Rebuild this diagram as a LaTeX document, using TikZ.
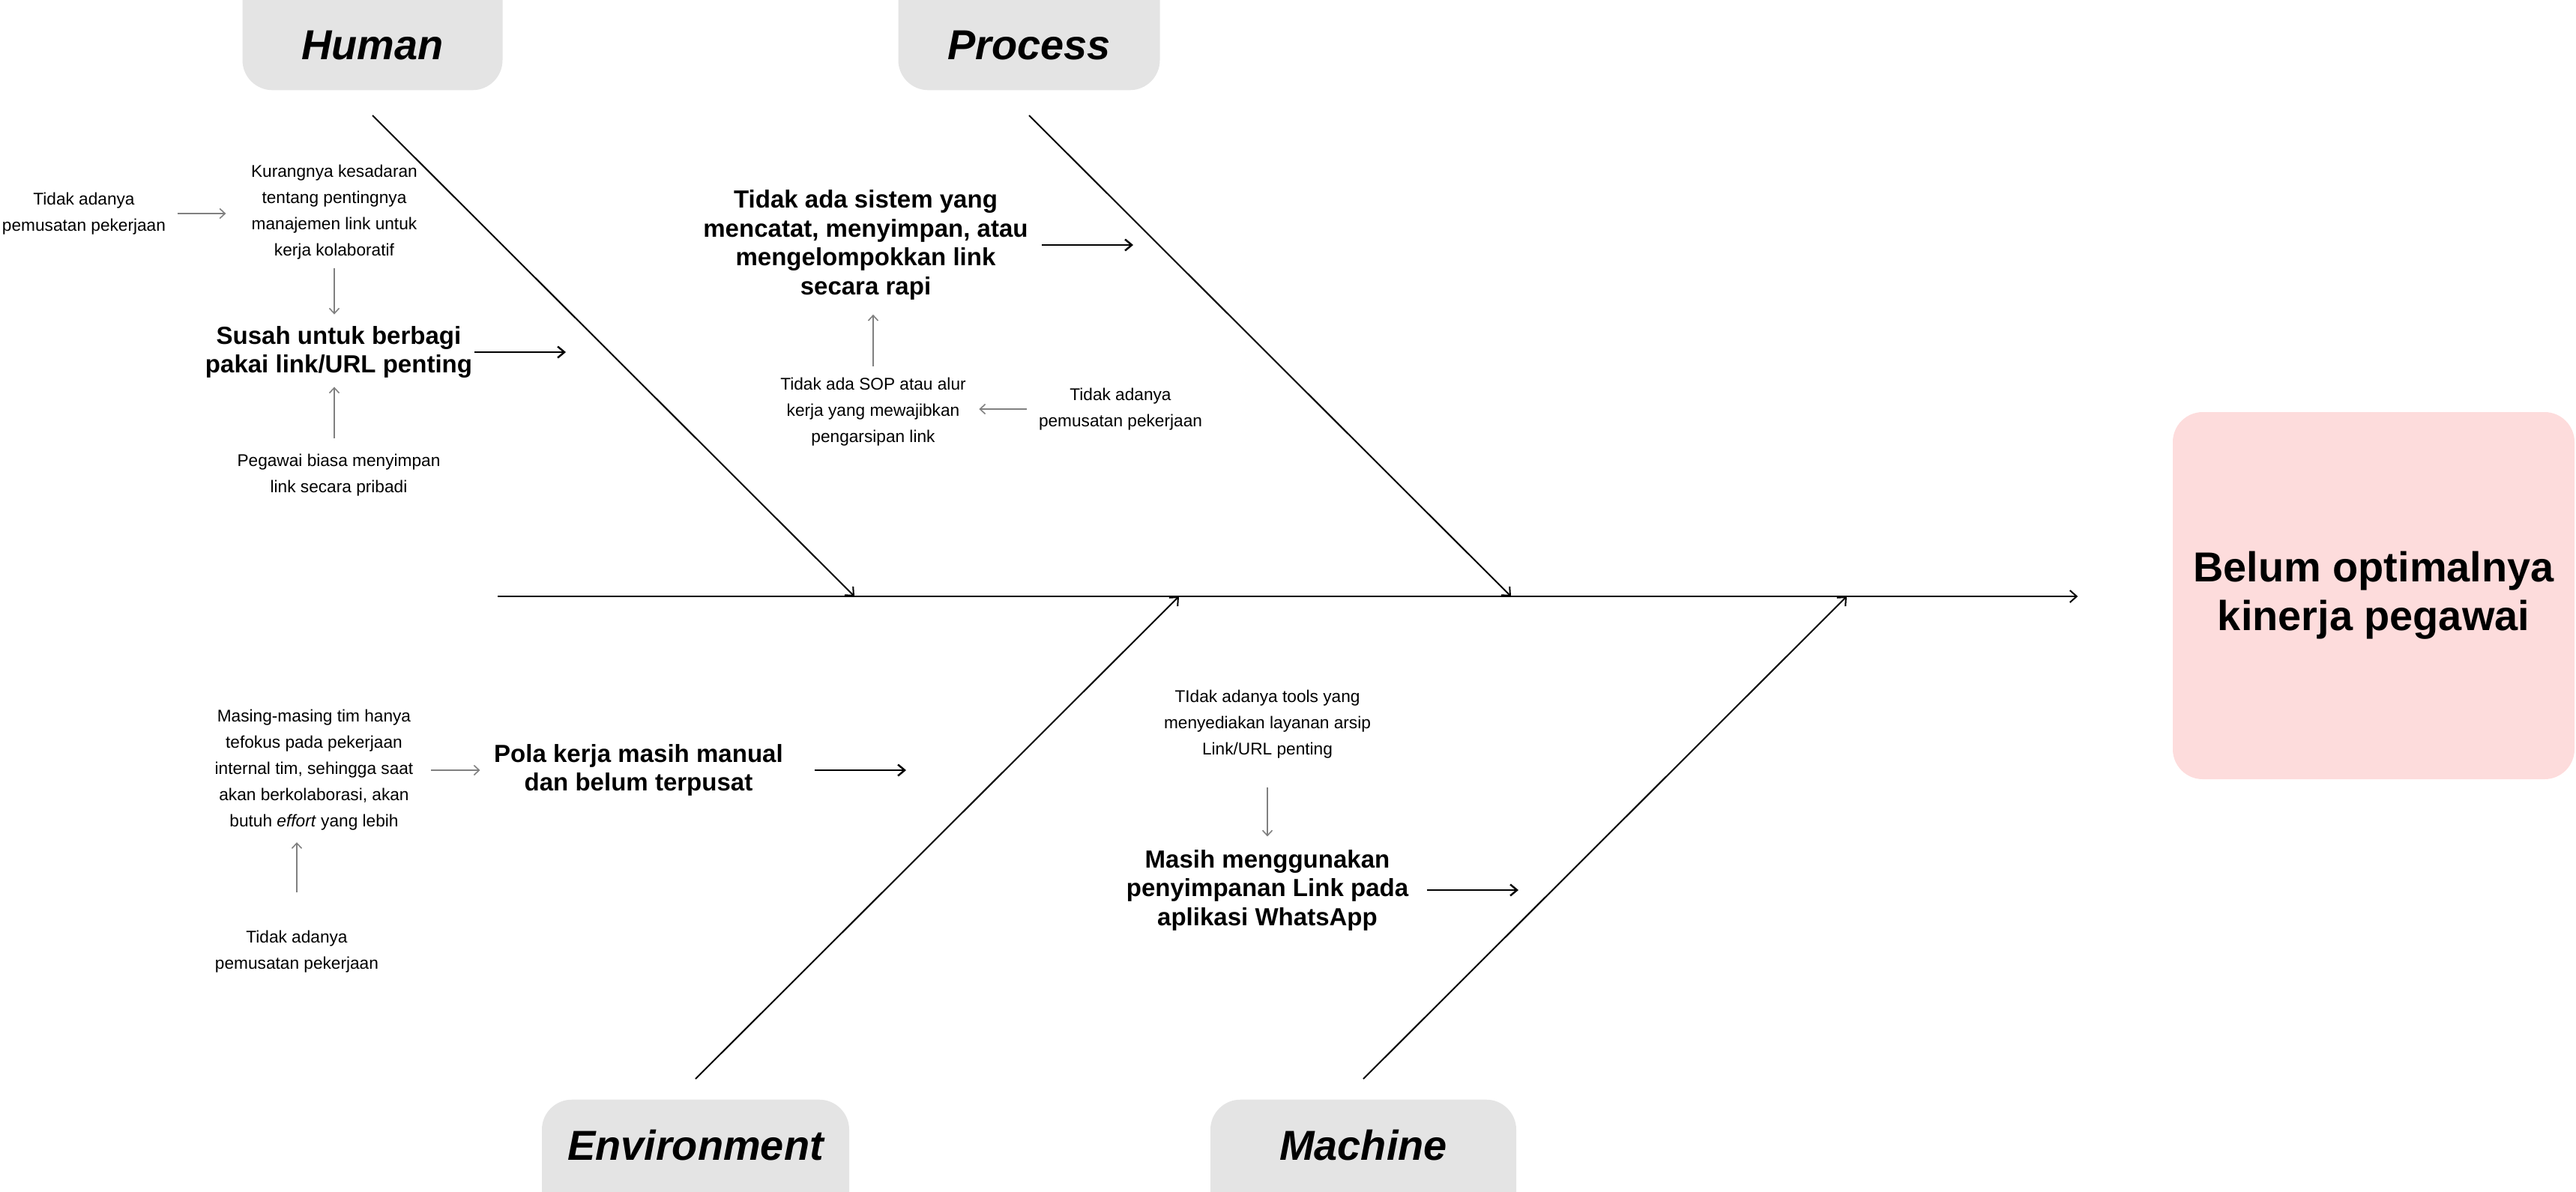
\documentclass[tikz,border=0pt]{standalone}
\usepackage{fontspec}
\setmainfont{Liberation Sans}
\usetikzlibrary{arrows.meta}
\definecolor{catgray}{RGB}{228,228,228}
\definecolor{effpink}{RGB}{253,220,220}
\definecolor{arrgray}{RGB}{128,128,128}
\begin{document}
\begin{tikzpicture}[
  cat/.style = {fill = catgray, rounded corners = 0.4cm, inner sep = 0pt, font = \fontsize{15.9}{19}\selectfont\bfseries\itshape},
  small/.style = {align = center, inner sep = 0pt, font = \fontsize{6.45}{9.95}\selectfont},
  cause/.style = {align = center, inner sep = 0pt, font = \fontsize{9.4}{10.95}\selectfont\bfseries},
  bone/.style = {line width = 0.57pt, -{Straight Barb[length = 0.9mm, width = 1.6mm]}},
  blackarr/.style = {line width = 0.7pt, -{Straight Barb[length = 0.9mm, width = 1.5mm]}},
  grayarr/.style = {arrgray, line width = 0.45pt, -{Straight Barb[length = 0.7mm, width = 1.3mm]}}
]
\useasboundingbox (0,0) rectangle (34.37,-15.90);
\clip (0,0) rectangle (34.37,-15.90);

\node[cat, minimum width = 3.47cm, text height = 1.2cm, text depth = 0.41cm, anchor = south] (hum) at (4.97,-1.21) {Human};
\node[cat, minimum width = 3.49cm, text height = 1.2cm, text depth = 0.41cm, anchor = south] (pro) at (13.73,-1.21) {Process};
\node[cat, minimum width = 4.10cm, text height = 0.81cm, text depth = 0.82cm, anchor = north] (env) at (9.28,-14.67) {Environment};
\node[cat, minimum width = 4.08cm, text height = 0.81cm, text depth = 0.82cm, anchor = north] (mac) at (18.19,-14.67) {Machine};
\node[fill = effpink, rounded corners = 0.4cm, minimum width = 5.36cm, minimum height = 4.90cm, align = center, inner sep = 0pt, font = \fontsize{15.9}{18.5}\selectfont\bfseries] (eff) at (31.67,-7.95) {Belum optimalnya\\kinerja pegawai};

\coordinate (tail) at (6.64,-7.96);
\coordinate (jh) at (11.40,-7.96);
\coordinate (jp) at (20.16,-7.96);
\coordinate (je) at (15.73,-7.96);
\coordinate (jm) at (24.64,-7.96);
\coordinate (ht) at ([yshift = -0.33cm]hum.south);
\coordinate (pt) at ([yshift = -0.33cm]pro.south);
\coordinate (et) at ([yshift = 0.27cm]env.north);
\coordinate (mt) at ([yshift = 0.27cm]mac.north);

\draw[bone, shorten >= 1.26cm] (tail) -- (tail -| eff.west);
\foreach \t/\j in {ht/jh, pt/jp, et/je, mt/jm}
\draw[bone] (\t) -- (\j);

\node[small] (h1a) at (1.12,-2.85) {Tidak adanya\\pemusatan pekerjaan};
\node[small] (h1b) at (4.46,-2.83) {Kurangnya kesadaran\\tentang pentingnya\\manajemen link untuk\\kerja kolaboratif};
\node[cause] (h1c) at (4.52,-4.70) {Susah untuk berbagi\\pakai link/URL penting};
\node[small] (h1d) at (4.52,-6.34) {Pegawai biasa menyimpan\\link secara pribadi};

\node[cause] (p1c) at (11.55,-3.27) {Tidak ada sistem yang\\mencatat, menyimpan, atau\\mengelompokkan link\\secara rapi};
\node[small] (p1b) at (11.65,-5.50) {Tidak ada SOP atau alur\\kerja yang mewajibkan\\pengarsipan link};
\node[small] (p1a) at (14.95,-5.46) {Tidak adanya\\pemusatan pekerjaan};

\node[small] (e1a) at (4.19,-10.28) {Masing-masing tim hanya\\tefokus pada pekerjaan\\internal tim, sehingga saat\\akan berkolaborasi, akan\\butuh \textit{effort} yang lebih};
\node[cause] (e1c) at (8.52,-10.28) {Pola kerja masih manual\\dan belum terpusat};
\node[small] (e1d) at (3.96,-12.70) {Tidak adanya\\pemusatan pekerjaan};

\node[small] (m1a) at (16.91,-9.67) {TIdak adanya tools yang\\menyediakan layanan arsip\\Link/URL penting};
\node[cause] (m1c) at (16.91,-11.88) {Masih menggunakan\\penyimpanan Link pada\\aplikasi WhatsApp};

\draw[grayarr, shorten <= 0.15cm, shorten >= 0.33cm] (h1a.east) -- (h1a.east -| h1b.west);
\draw[grayarr, shorten <= 0.11cm, shorten >= 0.15cm] (h1b.south) -- (h1b.south |- h1c.north);
\draw[grayarr, shorten <= 0.2cm, shorten >= 0.11cm] (h1b.south |- h1d.north) -- (h1b.south |- h1c.south);
\draw[grayarr, shorten <= 0.15cm, shorten >= 0.19cm] (p1b.north) -- (p1b.north |- p1c.south);
\draw[grayarr, shorten <= 0.15cm, shorten >= 0.17cm] (p1a.west) -- (p1a.west -| p1b.east);
\draw[grayarr, shorten <= 0.23cm, shorten >= 0.18cm] (e1a.east) -- (e1a.east -| e1c.west);
\draw[grayarr, shorten <= 0.5cm, shorten >= 0.15cm] (e1d.north) -- (e1d.north |- e1a.south);
\draw[grayarr, shorten <= 0.38cm, shorten >= 0.17cm] (m1a.south) -- (m1a.south |- m1c.north);

\coordinate (h1t) at (7.55,-4.70);
\coordinate (p1t) at (15.12,-3.27);
\coordinate (e1t) at (12.09,-10.28);
\coordinate (m1t) at (20.26,-11.88);
\draw[blackarr, shorten <= 0.02cm] (h1c.east) -- (h1t);
\draw[blackarr, shorten <= 0.18cm] (p1c.east) -- (p1t);
\draw[blackarr, shorten <= 0.41cm] (e1c.east) -- (e1t);
\draw[blackarr, shorten <= 0.24cm] (m1c.east) -- (m1t);
\end{tikzpicture}
\end{document}
